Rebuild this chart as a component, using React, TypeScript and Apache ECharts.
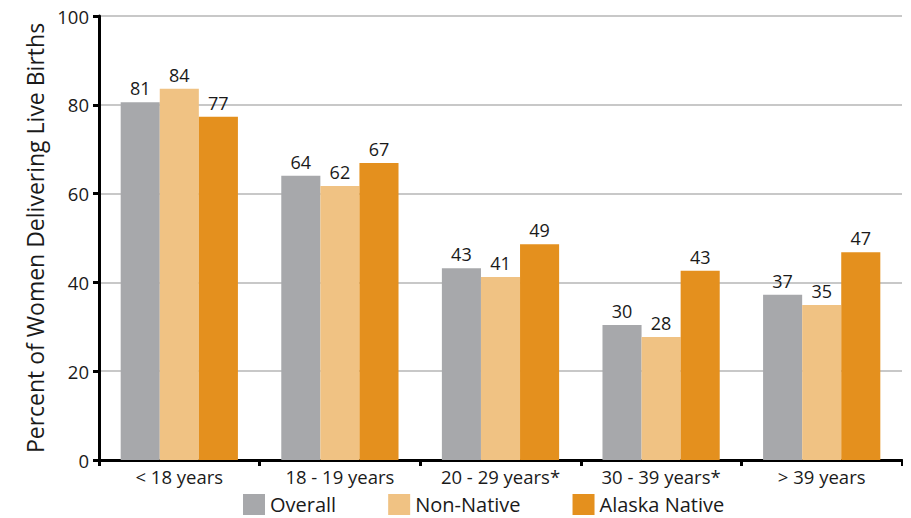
import React, { useEffect, useRef } from "react";
import * as echarts from "echarts";

const categories = ["< 18 years", "18 - 19 years", "20 - 29 years*", "30 - 39 years*", "> 39 years"];
const overall = [80.6, 64.0, 43.2, 30.4, 37.2];
const nonNative = [83.6, 61.7, 41.2, 27.7, 34.9];
const alaskaNative = [77.3, 66.9, 48.6, 42.6, 46.8];
const seriesNames = ["Overall", "Non-Native", "Alaska Native"];
const colors = ["#a7a8ab", "#f0c283", "#e4901e"];
const yTicks = { min: 0, max: 100, interval: 20 };

const FONT = "Open Sans";

export default function App() {
  const ref = useRef<HTMLDivElement>(null);
  useEffect(() => {
    if (!ref.current) return;
    const chart = echarts.init(ref.current, undefined, { renderer: "svg" });
    const mk = (name: string, data: number[], color: string) => ({
      name,
      type: "bar",
      data,
      barGap: "0%",
      barCategoryGap: "27%",
      itemStyle: { color },
      label: {
        show: true,
        position: "top",
        distance: 5,
        fontFamily: FONT,
        fontSize: 18,
        color: "#1a1a1a",
        formatter: (p: any) => String(Math.round(p.value)),
      },
    });
    chart.setOption({
      animation: false,
      textStyle: { fontFamily: FONT },
      grid: { left: 99, right: 9, top: 16, bottom: 58, containLabel: false },
      legend: {
        top: 494,
        left: 243,
        padding: 0,
        itemWidth: 22,
        itemHeight: 21,
        itemGap: 52,
        icon: "rect",
        textStyle: { fontFamily: FONT, fontSize: 20, lineHeight: 20, color: "#1a1a1a", padding: [0, 0, 0, 0] },
        data: seriesNames,
      },
      xAxis: {
        type: "category",
        data: categories,
        axisLine: { lineStyle: { color: "#000", width: 3 } },
        axisTick: { show: true, length: 6, lineStyle: { color: "#000", width: 3 } },
        axisLabel: { fontFamily: FONT, fontSize: 18.5, color: "#1a1a1a", margin: 7 },
      },
      yAxis: {
        type: "value",
        min: yTicks.min,
        max: yTicks.max,
        interval: yTicks.interval,
        name: "Percent of Women Delivering Live Births",
        nameLocation: "middle",
        nameGap: 53,
        nameTextStyle: { fontFamily: FONT, fontSize: 23, color: "#1a1a1a" },
        axisLine: { show: true, lineStyle: { color: "#000", width: 3 } },
        axisTick: { show: true, length: 6, lineStyle: { color: "#000", width: 3 } },
        axisLabel: { fontFamily: FONT, fontSize: 18.5, color: "#1a1a1a", margin: 10 },
        splitLine: { lineStyle: { color: "#c8c8c8", width: 2 } },
      },
      series: [
        mk(seriesNames[0], overall, colors[0]),
        mk(seriesNames[1], nonNative, colors[1]),
        mk(seriesNames[2], alaskaNative, colors[2]),
      ],
    });
    return () => chart.dispose();
  }, []);
  return <div ref={ref} style={{ width: 911, height: 518, margin: "-8px 0 0 -8px" }} />;
}
